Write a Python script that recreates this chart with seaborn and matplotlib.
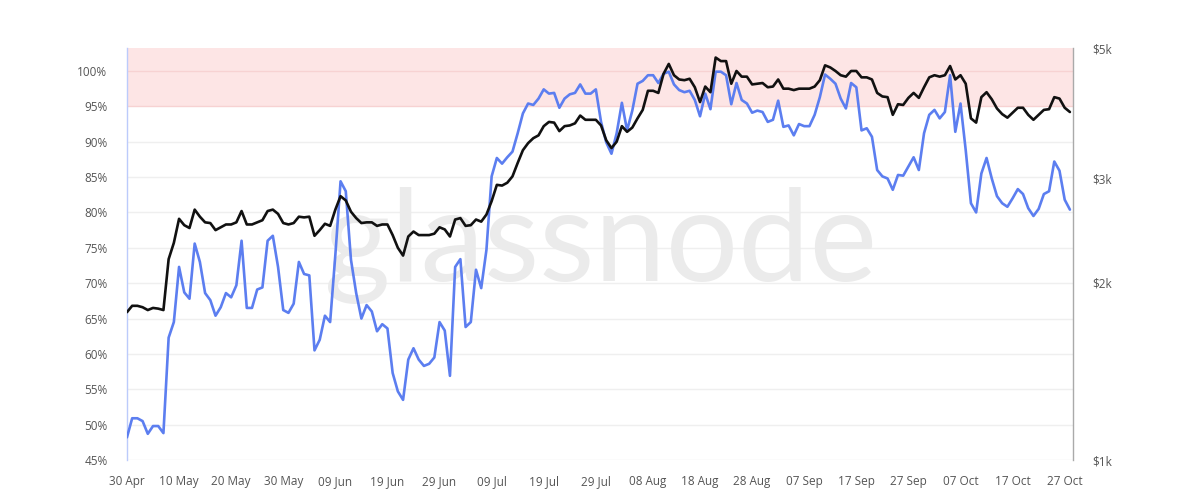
import numpy as np
import pandas as pd
import seaborn as sns
import matplotlib.pyplot as plt
import matplotlib.ticker as mticker

# daily values, 30 Apr -> 28 Oct
blue_pct = [
    48.2, 50.9, 50.9, 50.5, 48.7, 49.8, 49.8, 48.8, 62.3, 64.5, 72.3, 68.7, 67.8, 75.6, 73.0, 68.6,
    67.6, 65.4, 66.6, 68.6, 68.0, 69.7, 76.0, 66.5, 66.5, 69.1, 69.4, 76.0, 76.7, 72.3, 66.2, 65.8,
    67.1, 73.0, 71.3, 71.1, 60.5,
    62.0, 65.4, 64.5, 74.0, 84.4, 83.0, 73.3, 68.6, 65.0, 66.9, 66.0, 63.2, 64.2, 63.6, 57.3, 54.7,
    53.5, 59.2, 60.8, 59.2, 58.3, 58.6, 59.5, 64.5, 63.3, 56.9, 72.3, 73.4, 63.8, 64.5, 71.9, 69.3,
    74.7, 85.1, 87.7,
    86.9, 87.8, 88.6, 91.2, 94.0, 95.4, 95.2, 96.1, 97.4, 96.8, 96.9, 94.8, 96.1, 96.7, 96.9, 98.1,
    96.8, 96.8, 97.4, 92.8, 89.9, 88.3, 91.2, 95.5, 91.6, 94.4, 98.2, 98.6, 99.4, 99.4, 98.3, 99.6,
    99.9, 98.1, 97.3, 97.0, 97.2, 95.9,
    93.6, 96.8, 94.6, 99.9, 99.9, 99.4, 95.3, 98.3, 95.9, 95.4, 94.1, 94.4, 94.2, 92.8, 93.1, 95.8,
    92.1, 92.3, 90.9, 92.5, 92.2, 92.2, 93.8, 96.3, 99.5, 98.9, 98.2, 96.1, 94.7, 98.3, 97.7, 91.6,
    91.9, 90.7, 86.0, 85.1, 84.8,
    83.2, 85.3, 85.2, 86.5, 87.8, 86.0, 91.2, 93.8, 94.5, 93.3, 94.2, 99.4, 91.4, 95.4, 88.8, 81.3,
    80.0, 85.5, 87.7, 84.8, 82.3, 81.3, 80.8, 82.0, 83.3, 82.6, 80.6, 79.5, 80.5, 82.6, 83.0, 87.2,
    85.9, 81.8, 80.4,
]
black_pct = [
    65.9, 66.8, 66.8, 66.6, 66.2, 66.5, 66.4, 66.2, 73.4, 75.7, 79.1, 78.2, 77.8, 80.4, 79.4, 78.6,
    78.5, 77.5, 77.9, 78.3, 78.3, 78.6, 80.2, 78.3, 78.3, 78.6, 78.9, 80.2, 80.4, 79.8, 78.5, 78.3,
    78.5, 79.4, 79.3, 79.4, 76.7,
    77.5, 78.4, 78.1, 80.4, 82.3, 81.7, 80.1, 79.2, 78.5, 78.6, 78.6, 78.1, 78.3, 78.3, 76.8, 75.0,
    73.9, 76.6, 77.3, 76.8, 76.8, 76.8, 77.0, 77.9, 77.6, 76.6, 79.0, 79.2, 78.1, 78.2, 79.0, 78.7,
    79.7, 81.6, 83.9,
    83.8, 84.2, 85.1, 87.0, 88.8, 89.8, 90.5, 90.9, 92.2, 92.8, 92.7, 91.5, 92.2, 92.3, 92.6, 93.7,
    93.1, 93.1, 93.1, 92.3, 90.2, 89.1, 90.0, 92.2, 91.4, 92.0, 93.3, 94.5, 97.2, 97.2, 96.9, 99.6,
    101.0, 99.4, 98.8, 98.7, 98.9, 97.7,
    95.6, 97.8, 97.0, 101.9, 101.4, 101.4, 98.2, 100.0, 99.2, 99.2, 98.1, 98.2, 98.3, 97.7, 97.8, 98.8,
    97.5, 97.5, 97.3, 97.5, 97.5, 97.5, 97.8, 98.7, 100.8, 100.5, 100.0, 99.4, 99.2, 100.0, 100.0, 99.1,
    99.1, 98.8, 96.9, 96.4, 96.3,
    93.8, 95.3, 95.2, 96.2, 96.9, 96.2, 97.7, 99.1, 99.4, 99.2, 99.4, 100.7, 98.8, 99.4, 98.2, 93.3,
    92.7, 96.3, 97.0, 96.0, 94.7, 93.9, 93.4, 94.1, 94.8, 94.8, 93.8, 93.1, 93.8, 94.5, 94.6, 96.3,
    96.1, 94.8, 94.2,
]
start_date = "2020-04-30"
pct_ticks = [45, 50, 55, 60, 65, 70, 75, 80, 85, 90, 95, 100]
price_ticks = [1000, 2000, 3000, 5000]
price_labels = ["$1k", "$2k", "$3k", "$5k"]

dates = pd.date_range(start_date, periods=len(blue_pct), freq="D")
df = pd.DataFrame({"date": dates, "blue": blue_pct, "black": black_pct})

sns.set_style("white")
plt.rcParams["font.family"] = ["Open Sans", "DejaVu Sans"]

fig = plt.figure(figsize=(12, 5), dpi=100)
ax = fig.add_axes([0.1058, 0.08, 0.7884, 0.824])

x0 = dates[0]
x1 = dates[0] + pd.Timedelta(days=181.6)
ax.set_xlim(x0, x1)
ax.set_ylim(45, 103.25)

# red zone above 95%
ax.axhspan(95, 103.25, color="#fde5e5", zorder=0, lw=0)
for t in pct_ticks:
    c = "#f7d2d2" if t >= 95 else "#efefef"
    ax.axhline(t, color=c, lw=1, zorder=0.5)

ax.text(0.5, 0.52, "glassnode", transform=ax.transAxes, ha="center", va="center",
        fontsize=92, color="#ebebeb", family="Lato", zorder=0.6)

sns.lineplot(data=df, x="date", y="blue", ax=ax, color="#5c7ef0", lw=1.9, zorder=3)
sns.lineplot(data=df, x="date", y="black", ax=ax, color="#111111", lw=1.9, zorder=4)

ax.set_xlabel("")
ax.set_ylabel("")
ax.set_yticks(pct_ticks)
ax.yaxis.set_major_formatter(mticker.FuncFormatter(lambda v, p: f"{v:.0f}%"))
tick_dates = pd.date_range(start_date, periods=19, freq="10D")
ax.set_xticks(tick_dates)
ax.set_xticklabels([d.strftime("%d %b") for d in tick_dates])
ax.tick_params(axis="y", length=0, pad=14, labelsize=8.5, labelcolor="#555555")
ax.tick_params(axis="x", length=6, width=0.8, color="#d5d5d5", pad=5,
               labelsize=8.5, labelcolor="#555555")

for s in ["top", "right", "bottom"]:
    ax.spines[s].set_visible(False)
ax.spines["left"].set_color("#bccbfb")
ax.spines["left"].set_linewidth(1)

ax2 = ax.twinx()
ax2.set_yscale("log")
ax2.set_ylim(1000, 5000)
ax2.set_yticks(price_ticks)
ax2.set_yticklabels(price_labels)
ax2.yaxis.set_minor_locator(mticker.NullLocator())
ax2.tick_params(axis="y", length=0, pad=14, labelsize=8.5, labelcolor="#555555")
for s in ["top", "left", "bottom"]:
    ax2.spines[s].set_visible(False)
ax2.spines["right"].set_color("#aaaaaa")
ax2.spines["right"].set_linewidth(1)

fig.savefig("out.png", dpi=100)
